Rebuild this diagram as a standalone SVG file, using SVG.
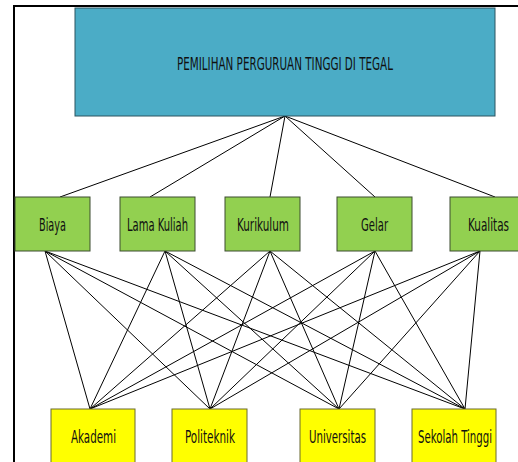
<svg xmlns="http://www.w3.org/2000/svg" width="518" height="462" viewBox="0 0 518 462">
<style>
.t{font-family:"Liberation Sans Narrow","DejaVu Sans Condensed","Liberation Sans",sans-serif;font-size:17.5px;fill:#111;text-anchor:middle}
.blue{fill:#4BACC6;stroke:#2d5560;stroke-width:1}
.green{fill:#92D050;stroke:#3d4d30;stroke-width:1}
.yellow{fill:#FFFF00;stroke:#6b6b30;stroke-width:1}
#edges line{stroke:#000;stroke-width:1}
.frame{fill:none;stroke:#000;stroke-width:2}
</style>
<rect width="518" height="462" fill="#fff"/>
<path class="frame" d="M14,462 V6 H518"/>
<g id="edges">
<line x1="285" y1="116" x2="60" y2="197"/>
<line x1="285" y1="116" x2="150" y2="197"/>
<line x1="285" y1="116" x2="270" y2="197"/>
<line x1="285" y1="116" x2="375" y2="197"/>
<line x1="285" y1="116" x2="495" y2="197"/>
<line x1="45" y1="251" x2="90" y2="409"/>
<line x1="45" y1="251" x2="210" y2="409"/>
<line x1="45" y1="251" x2="339" y2="409"/>
<line x1="45" y1="251" x2="465" y2="409"/>
<line x1="165" y1="251" x2="90" y2="409"/>
<line x1="165" y1="251" x2="210" y2="409"/>
<line x1="165" y1="251" x2="339" y2="409"/>
<line x1="165" y1="251" x2="465" y2="409"/>
<line x1="270" y1="251" x2="90" y2="409"/>
<line x1="270" y1="251" x2="210" y2="409"/>
<line x1="270" y1="251" x2="339" y2="409"/>
<line x1="270" y1="251" x2="465" y2="409"/>
<line x1="375" y1="251" x2="90" y2="409"/>
<line x1="375" y1="251" x2="210" y2="409"/>
<line x1="375" y1="251" x2="339" y2="409"/>
<line x1="375" y1="251" x2="465" y2="409"/>
<line x1="480" y1="251" x2="90" y2="409"/>
<line x1="480" y1="251" x2="210" y2="409"/>
<line x1="480" y1="251" x2="339" y2="409"/>
<line x1="480" y1="251" x2="465" y2="409"/>
</g>
<g id="goal">
<rect class="blue" x="75" y="8" width="420" height="108"/>
<text class="t" x="285" y="70" textLength="216" lengthAdjust="spacingAndGlyphs">PEMILIHAN PERGURUAN TINGGI DI TEGAL</text>
</g>
<g id="biaya">
<rect class="green" x="15" y="197" width="75" height="54"/>
<text class="t" x="52.5" y="231" textLength="27" lengthAdjust="spacingAndGlyphs">Biaya</text>
</g>
<g id="lama-kuliah">
<rect class="green" x="120" y="197" width="75" height="54"/>
<text class="t" x="157.5" y="231" textLength="61" lengthAdjust="spacingAndGlyphs">Lama Kuliah</text>
</g>
<g id="kurikulum">
<rect class="green" x="225" y="197" width="75" height="54"/>
<text class="t" x="263" y="231" textLength="52" lengthAdjust="spacingAndGlyphs">Kurikulum</text>
</g>
<g id="gelar">
<rect class="green" x="337" y="197" width="75" height="54"/>
<text class="t" x="374.5" y="231" textLength="27" lengthAdjust="spacingAndGlyphs">Gelar</text>
</g>
<g id="kualitas">
<rect class="green" x="450" y="197" width="78" height="54"/>
<text class="t" x="488.5" y="231" textLength="41" lengthAdjust="spacingAndGlyphs">Kualitas</text>
</g>
<g id="akademi">
<rect class="yellow" x="51" y="409" width="84" height="60"/>
<text class="t" x="93.5" y="443" textLength="45" lengthAdjust="spacingAndGlyphs">Akademi</text>
</g>
<g id="politeknik">
<rect class="yellow" x="172" y="409" width="75" height="60"/>
<text class="t" x="210" y="443" textLength="50" lengthAdjust="spacingAndGlyphs">Politeknik</text>
</g>
<g id="universitas">
<rect class="yellow" x="300" y="409" width="75" height="60"/>
<text class="t" x="337.5" y="443" textLength="57" lengthAdjust="spacingAndGlyphs">Universitas</text>
</g>
<g id="sekolah-tinggi">
<rect class="yellow" x="412" y="409" width="84" height="60"/>
<text class="t" x="455" y="443" textLength="74" lengthAdjust="spacingAndGlyphs">Sekolah Tinggi</text>
</g>
</svg>
